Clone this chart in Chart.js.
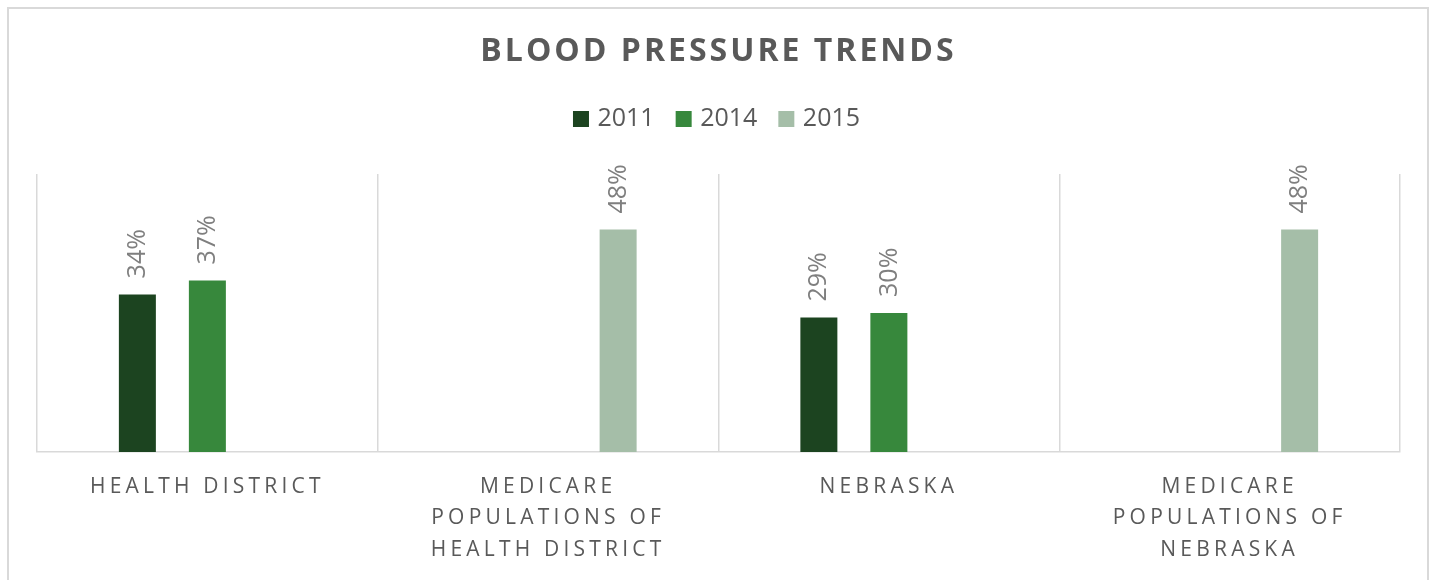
<!DOCTYPE html>
<html>
<head>
<meta charset="utf-8">
<script src="https://cdn.jsdelivr.net/npm/chart.js@4/dist/chart.umd.min.js"></script>
<style>
  html, body { margin: 0; padding: 0; background: #ffffff; overflow: hidden; }
  #frame { position: absolute; left: 7px; top: 7px; width: 1418px; height: 600px; border: 2px solid #d9d9d9; box-sizing: content-box; }
  #wrap { position: absolute; left: 0; top: 0; width: 1434px; height: 580px; }
</style>
</head>
<body>
<div id="frame"></div>
<div id="wrap"><canvas id="c" width="1434" height="580"></canvas></div>
<script>
const categories = [
  ["HEALTH DISTRICT"],
  ["MEDICARE", "POPULATIONS OF", "HEALTH DISTRICT"],
  ["NEBRASKA"],
  ["MEDICARE", "POPULATIONS OF", "NEBRASKA"]
];
const seriesNames = ["2011", "2014", "2015"];
const values2011 = [34, null, 29, null];
const values2014 = [37, null, 30, null];
const values2015 = [null, 48, null, 48];
const seriesColors = ["#1c4420", "#37883c", "#a5bea8"];

const FONT = "'Open Sans', 'Noto Sans', sans-serif";

const spacingPlugin = {
  id: 'spacing',
  afterUpdate(chart) {
    const s = chart.scales.x;
    if (s && !s._lsPatched) {
      const orig = s.drawLabels;
      s.drawLabels = function (ca) {
        const c = this.ctx; c.save(); c.letterSpacing = '4.2px';
        orig.call(this, ca); c.restore();
      };
      s._lsPatched = true;
    }
    const t = chart.titleBlock;
    if (t && !t._lsPatched) {
      const origT = t.draw;
      t.draw = function (ca) {
        const c = this.ctx; c.save(); c.letterSpacing = '3px';
        origT.call(this, ca); c.restore();
      };
      t._lsPatched = true;
    }
  }
};

const valueLabelPlugin = {
  id: 'valueLabels',
  afterDatasetsDraw(chart) {
    const ctx = chart.ctx;
    chart.data.datasets.forEach((ds, di) => {
      const meta = chart.getDatasetMeta(di);
      meta.data.forEach((bar, i) => {
        const v = ds.data[i];
        if (v === null || v === undefined) return;
        ctx.save();
        ctx.letterSpacing = '0px';
        ctx.font = "25px " + FONT;
        ctx.fillStyle = '#7f7f7f';
        ctx.translate(bar.x + 0.5, bar.y - 16);
        ctx.rotate(-Math.PI / 2);
        ctx.textAlign = 'left';
        ctx.textBaseline = 'middle';
        ctx.fillText(v + '%', 0, 0);
        ctx.restore();
      });
    });
  }
};

const datasets = [values2011, values2014, values2015].map((vals, k) => ({
  label: seriesNames[k],
  data: vals,
  backgroundColor: seriesColors[k],
  borderWidth: 0,
  pointStyle: 'rect',
  categoryPercentage: 0.6163,
  barPercentage: 0.5286
}));

new Chart(document.getElementById('c'), {
  type: 'bar',
  data: { labels: categories, datasets: datasets },
  plugins: [spacingPlugin, valueLabelPlugin],
  options: {
    responsive: false,
    animation: false,
    layout: { padding: { left: 37, right: 34, top: 0, bottom: 0 } },
    plugins: {
      tooltip: { enabled: false },
      title: {
        display: true,
        text: 'BLOOD PRESSURE TRENDS',
        color: '#595959',
        font: { family: FONT, size: 32, weight: 'bold', lineHeight: 1.2 },
        padding: { top: 32.8, bottom: 10.3 }
      },
      subtitle: {
        display: true,
        text: '',
        weight: 500,
        font: { family: FONT, size: 27, lineHeight: 1.2 },
        padding: 0
      },
      legend: {
        position: 'top',
        labels: {
          color: '#595959',
          font: { family: FONT, size: 25 },
          usePointStyle: true,
          pointStyle: 'rect',
          boxWidth: 8,
          boxHeight: 16,
          padding: 25
        }
      }
    },
    scales: {
      x: {
        grid: { display: true, color: '#d9d9d9', lineWidth: 1.5, drawTicks: false, offset: true },
        border: { display: true, color: '#d9d9d9', width: 1.5 },
        ticks: {
          color: '#595959',
          font: { family: FONT, size: 21, lineHeight: 1.5 },
          padding: 19,
          autoSkip: false,
          maxRotation: 0,
          minRotation: 0
        },
        afterFit(scale) { scale.height = 128; }
      },
      y: {
        display: false,
        min: 0,
        max: 60
      }
    }
  }
});
</script>
</body>
</html>
